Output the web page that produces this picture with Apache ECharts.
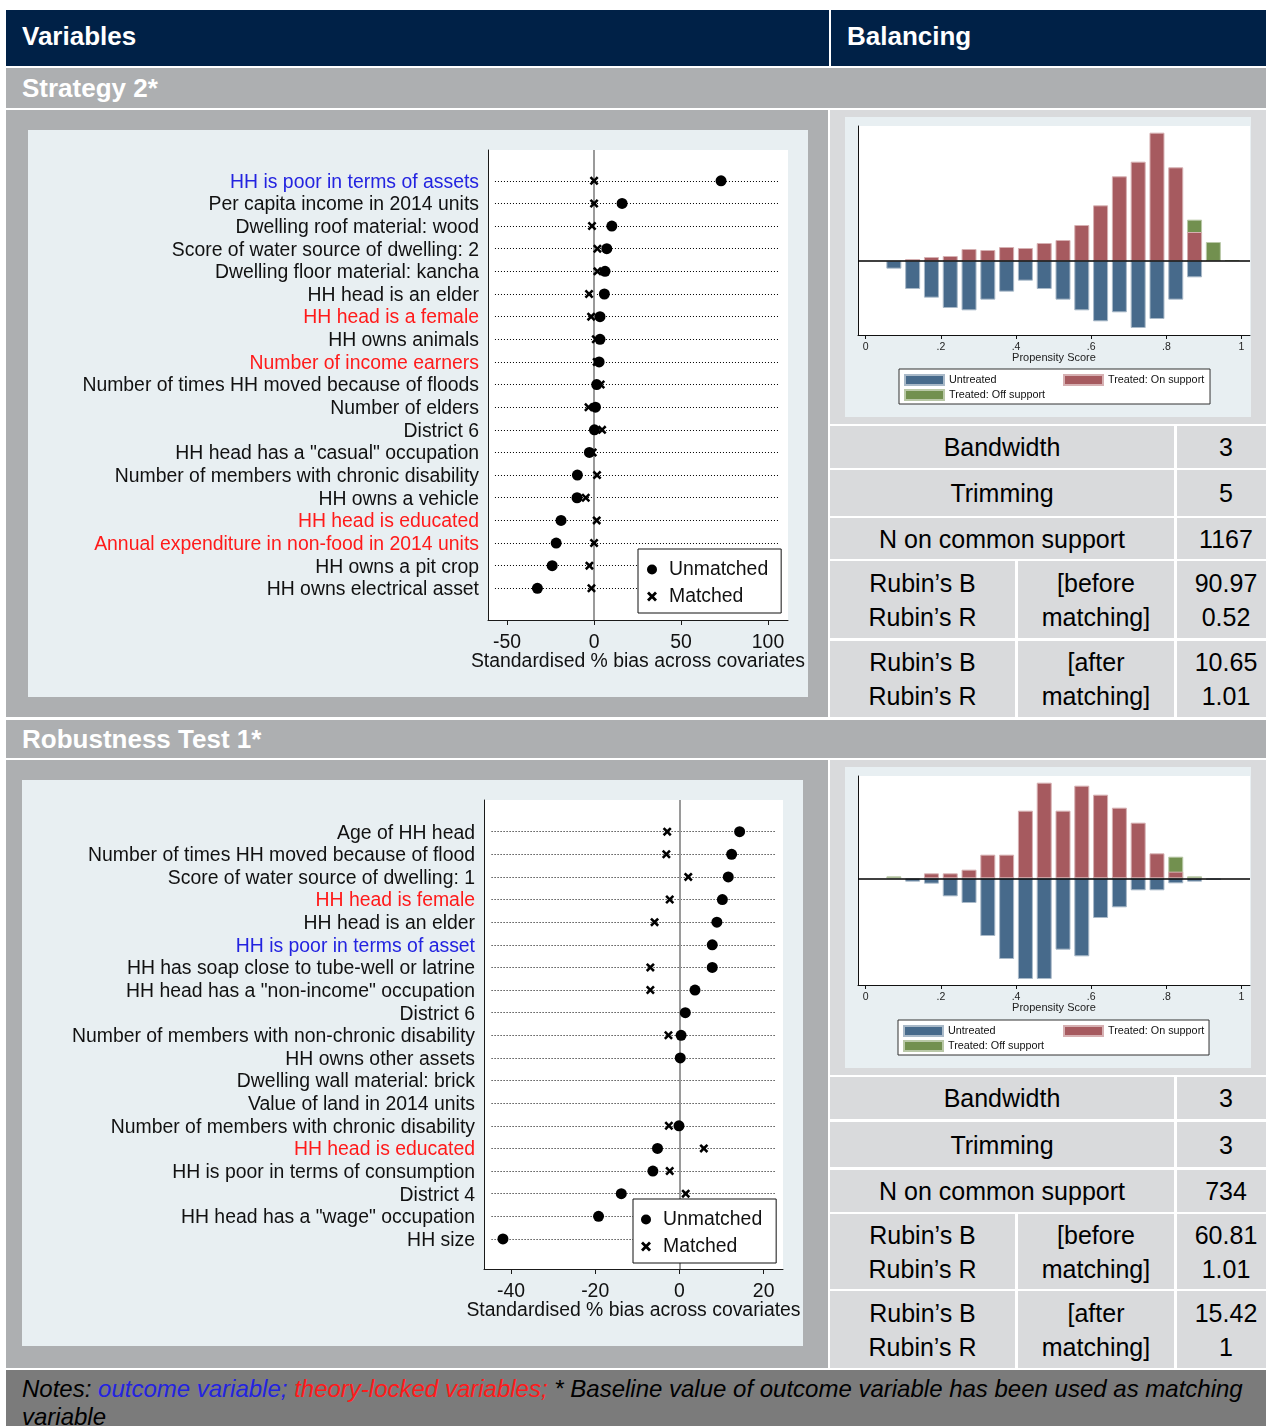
<!DOCTYPE html>
<html>
<head>
<meta charset="utf-8">
<script src="https://cdn.jsdelivr.net/npm/echarts@6/dist/echarts.min.js"></script>
<style>
  html, body { margin: 0; padding: 0; background: #fff; }
  body { font-family: "Liberation Sans", Arial, sans-serif; }
  #page { position: relative; width: 1266px; height: 1426px; overflow: hidden; background: #fff; }
  .b { position: absolute; box-sizing: border-box; }
  .navy { background: #002147; }
  .dk { background: #adafb1; }
  .lt { background: #d9dadc; }
  .hd { color: #fff; font-weight: bold; font-size: 26px; display: flex; align-items: center; padding-left: 16px; white-space: nowrap; }
  .top { padding-bottom: 4px; }
  .cell { color: #000; font-size: 25px; display: flex; align-items: center; justify-content: center; text-align: center; line-height: 34px; white-space: nowrap; }
  .notes { background: #7b7b7b; color: #000; font-style: italic; font-size: 24px; line-height: 28px; padding: 5px 0 0 16px; white-space: nowrap; }
</style>
</head>
<body>
<div id="page">
  <!-- header row -->
  <div class="b navy hd top" style="left:6px;top:10px;width:823px;height:56px;">Variables</div>
  <div class="b navy hd top" style="left:831px;top:10px;width:435px;height:56px;">Balancing</div>

  <!-- block 1 -->
  <div class="b dk hd" style="left:6px;top:68px;width:1260px;height:40px;">Strategy 2*</div>
  <div class="b dk" style="left:6px;top:110px;width:822px;height:607px;"></div>
  <div class="b lt" style="left:830px;top:110px;width:436px;height:314px;"></div>
  <div id="dot1" class="b" style="left:28px;top:130px;width:780px;height:567px;"></div>
  <div id="hist1" class="b" style="left:845px;top:117px;width:406px;height:300px;"></div>
  <div id="tab1"></div>

  <!-- block 2 -->
  <div class="b dk hd" style="left:6px;top:720px;width:1260px;height:38px;">Robustness Test 1*</div>
  <div class="b dk" style="left:6px;top:760px;width:822px;height:608px;"></div>
  <div class="b lt" style="left:830px;top:760px;width:436px;height:315px;"></div>
  <div id="dot2" class="b" style="left:22px;top:780px;width:781px;height:566px;"></div>
  <div id="hist2" class="b" style="left:845px;top:767px;width:406px;height:301px;"></div>
  <div id="tab2"></div>

  <!-- notes -->
  <div class="b notes" style="left:6px;top:1370px;width:1260px;height:56px;">Notes: <span style="color:#2323e0">outcome variable;</span> <span style="color:#ff1a1a">theory-locked variables;</span> * Baseline value of outcome variable has been used as matching<br>variable</div>
</div>

<script>
// ---------------- Strategy 2* : covariate balance ----------------
const s2Variables = [
  'HH is poor in terms of assets',
  'Per capita income in 2014 units',
  'Dwelling roof material: wood',
  'Score of water source of dwelling: 2',
  'Dwelling floor material: kancha',
  'HH head is an elder',
  'HH head is a female',
  'HH owns animals',
  'Number of income earners',
  'Number of times HH moved because of floods',
  'Number of elders',
  'District 6',
  'HH head has a "casual" occupation',
  'Number of members with chronic disability',
  'HH owns a vehicle',
  'HH head is educated',
  'Annual expenditure in non-food in 2014 units',
  'HH owns a pit crop',
  'HH owns electrical asset'
];
// o = outcome variable, t = theory-locked variable, k = other
const s2Kind = ['o','k','k','k','k','k','t','k','t','k','k','k','k','k','k','t','t','k','k'];
const s2Unmatched = [73, 16.1, 10.2, 7.3, 6.3, 5.9, 3.4, 3.4, 2.9, 1.5, 0.8, 0.2, -2.7, -9.6, -9.8, -19, -21.8, -24.1, -32.6];
const s2Matched   = [0, 0, -1.2, 1.9, 1.9, -2.9, -1.7, 1, 1.5, 3.8, -3.2, 4.6, -0.8, 1.7, -4.8, 1.5, 0, -2.7, -1.5];
const s2BiasTicks = [-50, 0, 50, 100];

// ---------------- Robustness Test 1* : covariate balance ----------------
const r1Variables = [
  'Age of HH head',
  'Number of times HH moved because of flood',
  'Score of water source of dwelling: 1',
  'HH head is female',
  'HH head is an elder',
  'HH is poor in terms of asset',
  'HH has soap close to tube-well or latrine',
  'HH head has a "non-income" occupation',
  'District 6',
  'Number of members with non-chronic disability',
  'HH owns other assets',
  'Dwelling wall material: brick',
  'Value of land in 2014 units',
  'Number of members with chronic disability',
  'HH head is educated',
  'HH is poor in terms of consumption',
  'District 4',
  'HH head has a "wage" occupation',
  'HH size'
];
const r1Kind = ['k','k','k','t','k','o','k','k','k','k','k','k','k','k','t','k','k','k','k'];
const r1Unmatched = [14.3, 12.4, 11.6, 10.2, 8.9, 7.8, 7.8, 3.7, 1.4, 0.4, 0.2, null, null, -0.1, -5.2, -6.3, -13.8, -19.2, -41.9];
const r1Matched   = [-2.9, -3.1, 2.1, -2.3, -5.9, null, -6.9, -6.9, null, -2.6, null, null, null, -2.5, 5.8, -2.3, 1.5, null, null];
const r1BiasTicks = [-40, -20, 0, 20];

// ---------------- propensity score histograms ----------------
const psBins = [0.075, 0.125, 0.175, 0.225, 0.275, 0.325, 0.375, 0.425, 0.475, 0.525,
                0.575, 0.625, 0.675, 0.725, 0.775, 0.825, 0.875, 0.925, 0.975];
const psTicks = [0, 0.2, 0.4, 0.6, 0.8, 1];
const s2Untreated   = [23, 84, 110, 141, 148, 116, 92, 59, 84, 116, 148, 181, 154, 201, 174, 116, 49, 0, 0];
const s2TreatedOn   = [0, 6, 12, 15, 36, 33, 42, 39, 54, 63, 108, 167, 254, 298, 385, 281, 87, 0, 0];
const s2TreatedOff  = [0, 0, 0, 0, 0, 0, 0, 0, 0, 0, 0, 0, 0, 0, 0, 0, 37, 57, 3];
const r1Untreated   = [0, 10, 16, 54, 74, 173, 242, 302, 302, 214, 234, 119, 87, 36, 36, 15, 10, 5, 0];
const r1TreatedOn   = [0, 0, 15, 15, 26, 71, 71, 203, 287, 203, 278, 251, 212, 167, 75, 20, 0, 0, 0];
const r1TreatedOff  = [6, 0, 0, 0, 0, 0, 0, 0, 0, 0, 0, 0, 0, 0, 0, 45, 6, 0, 0];

// ---------------- balancing statistics ----------------
const statLabels = ['Bandwidth', 'Trimming', 'N on common support'];
const s2Stats = ['3', '5', '1167', '90.97', '0.52', '10.65', '1.01'];
const r1Stats = ['3', '3', '734', '60.81', '1.01', '15.42', '1'];

// ======================================================================
const FONT = '"Liberation Sans", Arial, sans-serif';
const PANEL = '#e8eff2';
const CROSS = 'path://M2,0L5,3L8,0L10,2L7,5L10,8L8,10L5,7L2,10L0,8L3,5L0,2Z';
const BLUE_TXT = '#2323e0';
const RED_TXT = '#ff1a1a';

function dotChart(id, cfg) {
  const chart = echarts.init(document.getElementById(id), null, { renderer: 'canvas' });
  const rowIdx = cfg.labels.map((_, i) => i);
  const pts = arr => arr.map((v, i) => (v == null ? null : [v, i])).filter(Boolean);
  const guides = rowIdx.map(i => [
    { coord: [cfg.guide[0], i], lineStyle: { color: '#000', width: 1, type: [1, 2] } },
    { coord: [cfg.guide[1], i] }
  ]);
  const lab = { fontSize: 19.4, fontFamily: FONT, padding: [3, 0, 0, 0] };
  chart.setOption({
    animation: false,
    backgroundColor: PANEL,
    textStyle: { fontFamily: FONT },
    grid: {
      left: cfg.grid[0], top: cfg.grid[1], width: cfg.grid[2], height: cfg.grid[3],
      show: true, backgroundColor: '#fff', borderWidth: 0,
      containLabel: false, outerBoundsMode: 'none'
    },
    xAxis: {
      type: 'value', min: cfg.xRange[0], max: cfg.xRange[1],
      splitLine: { show: false },
      axisLine: { show: true, onZero: false, lineStyle: { color: '#1a1a1a', width: 1 } },
      axisTick: { show: true, customValues: cfg.ticks, length: 5, lineStyle: { color: '#1a1a1a' } },
      axisLabel: { show: true, customValues: cfg.ticks, fontSize: 19.4, color: '#111', margin: 13, fontFamily: FONT },
      name: 'Standardised % bias across covariates', nameLocation: 'middle', nameGap: 32,
      nameMoveOverlap: false,
      nameTextStyle: { fontSize: 19.4, color: '#111', fontFamily: FONT }
    },
    yAxis: {
      type: 'value', inverse: true, min: cfg.yRange[0], max: cfg.yRange[1],
      splitLine: { show: false },
      axisLine: { show: true, onZero: false, lineStyle: { color: '#1a1a1a', width: 1 } },
      axisTick: { show: false },
      axisLabel: {
        show: true, customValues: rowIdx, margin: 9,
        formatter: v => '{' + cfg.kinds[v] + '|' + cfg.labels[v] + '}',
        rich: {
          k: Object.assign({ color: '#111' }, lab),
          o: Object.assign({ color: BLUE_TXT }, lab),
          t: Object.assign({ color: RED_TXT }, lab)
        }
      }
    },
    legend: {
      show: true, orient: 'vertical', left: cfg.legend[0], top: cfg.legend[1],
      padding: cfg.legendPad, itemGap: 8, itemWidth: 24, itemHeight: 10,
      backgroundColor: '#fff', borderColor: '#111', borderWidth: 1, borderRadius: 0,
      selectedMode: false,
      textStyle: { fontSize: 19.4, color: '#111', fontFamily: FONT },
      data: [{ name: 'Unmatched', icon: 'circle' }, { name: 'Matched', icon: CROSS }]
    },
    series: [
      {
        type: 'scatter', name: 'Unmatched', data: pts(cfg.unmatched),
        symbol: 'circle', symbolSize: 11, itemStyle: { color: '#000', opacity: 1 }, z: 3,
        markLine: {
          silent: true, symbol: ['none', 'none'], label: { show: false }, z: 1, animation: false,
          emphasis: { disabled: true },
          data: guides.concat([{ xAxis: 0, lineStyle: { color: '#9a9a9a', width: 2, type: 'solid' } }])
        }
      },
      {
        type: 'scatter', name: 'Matched', data: pts(cfg.matched),
        symbol: CROSS, symbolSize: 9, itemStyle: { color: '#000', opacity: 1 }, z: 4
      }
    ]
  });
}

function histChart(id, cfg) {
  const chart = echarts.init(document.getElementById(id), null, { renderer: 'canvas' });
  const bars = f => psBins.map((b, i) => (f(i) ? [b, f(i)] : null)).filter(Boolean);
  const common = { type: 'bar', barWidth: 15, barGap: '-100%' };
  const legendBase = {
    show: true, orient: 'vertical', itemGap: 3, itemWidth: 39, itemHeight: 10, icon: 'rect',
    borderRadius: 0, selectedMode: false,
    textStyle: { fontSize: 10.8, color: '#111', fontFamily: FONT }
  };
  chart.setOption({
    animation: false,
    backgroundColor: PANEL,
    textStyle: { fontFamily: FONT },
    grid: {
      left: 13, top: 9, width: 392, height: 209,
      show: true, backgroundColor: '#fff', borderWidth: 0,
      containLabel: false, outerBoundsMode: 'none'
    },
    xAxis: {
      type: 'value', min: -0.0204, max: 1.0225,
      splitLine: { show: false },
      axisLine: { show: true, onZero: false, lineStyle: { color: '#111', width: 1 } },
      axisTick: { show: true, customValues: psTicks, length: 4, lineStyle: { color: '#111' } },
      axisLabel: {
        show: true, customValues: psTicks, fontSize: 10.5, color: '#222', margin: 7, fontFamily: FONT,
        formatter: v => (v === 0 ? '0' : v === 1 ? '1' : String(v).replace(/^0/, ''))
      },
      name: 'Propensity Score', nameLocation: 'middle', nameGap: 17, nameMoveOverlap: false,
      nameTextStyle: { fontSize: 11, color: '#222', fontFamily: FONT }
    },
    yAxis: {
      type: 'value', min: cfg.yRange[0], max: cfg.yRange[1],
      splitLine: { show: false },
      axisLine: { show: true, onZero: false, lineStyle: { color: '#111', width: 1 } },
      axisTick: { show: false }, axisLabel: { show: false }
    },
    // boxed legend (first column) plus the second-column key laid over it
    legend: [
      Object.assign({}, legendBase, {
        left: cfg.legend[0], top: cfg.legend[1], padding: [5, 165, 3, 5],
        backgroundColor: '#fff', borderColor: '#333', borderWidth: 1, z: 4,
        data: ['Untreated', 'Treated: Off support']
      }),
      Object.assign({}, legendBase, {
        left: 218, top: cfg.legend[1], padding: [5, 0, 0, 0],
        backgroundColor: 'transparent', borderWidth: 0, z: 5,
        data: ['Treated: On support']
      })
    ],
    series: [
      Object.assign({}, common, {
        name: 'Treated: Off support',
        data: bars(i => (cfg.off[i] ? cfg.on[i] + cfg.off[i] : 0)),
        itemStyle: { color: '#72904f', borderColor: '#b9c8a7', borderWidth: 1 }
      }),
      Object.assign({}, common, {
        name: 'Treated: On support',
        data: bars(i => cfg.on[i]),
        itemStyle: { color: '#a65a5f', borderColor: '#d6b0b2', borderWidth: 1 }
      }),
      Object.assign({}, common, {
        name: 'Untreated',
        data: bars(i => (cfg.un[i] ? -cfg.un[i] : 0)),
        itemStyle: { color: '#476a8b', borderColor: '#a9b9c8', borderWidth: 1 },
        markLine: {
          silent: true, symbol: ['none', 'none'], label: { show: false }, animation: false,
          emphasis: { disabled: true },
          data: [{ yAxis: 0, lineStyle: { color: '#000', width: 1.5, type: 'solid' } }]
        }
      })
    ]
  });
}

function statTable(id, rowsY, stats) {
  const host = document.getElementById(id);
  const cell = (x, y, w, h, html) => {
    const d = document.createElement('div');
    d.className = 'b lt cell';
    d.style.cssText = `left:${x}px;top:${y}px;width:${w}px;height:${h}px;`;
    d.innerHTML = html;
    host.appendChild(d);
    return d;
  };
  const val = (y, h, html) => { const d = cell(1177, y, 89, h, html); d.style.paddingLeft = '9px'; };
  statLabels.forEach((lbl, i) => {
    cell(830, rowsY[i][0], 344, rowsY[i][1], lbl);
    val(rowsY[i][0], rowsY[i][1], stats[i]);
  });
  const phases = ['[before<br>matching]', '[after<br>matching]'];
  phases.forEach((ph, j) => {
    const [y, h] = rowsY[3 + j];
    cell(830, y, 185, h, 'Rubin\u2019s B<br>Rubin\u2019s R');
    cell(1018, y, 156, h, ph);
    val(y, h, stats[3 + 2 * j] + '<br>' + stats[4 + 2 * j]);
  });
}

dotChart('dot1', {
  labels: s2Variables, kinds: s2Kind, unmatched: s2Unmatched, matched: s2Matched, ticks: s2BiasTicks,
  grid: [460, 20, 300, 470], xRange: [-61, 111.5], yRange: [-1.36, 19.4], guide: [-57, 106],
  legend: [610, 419], legendPad: [11, 13, 7, 9]
});
dotChart('dot2', {
  labels: r1Variables, kinds: r1Kind, unmatched: r1Unmatched, matched: r1Matched, ticks: r1BiasTicks,
  grid: [462, 20, 299, 469], xRange: [-46.4, 24.6], yRange: [-1.4, 19.33], guide: [-44.6, 22.9],
  legend: [611, 419], legendPad: [11, 14, 7, 8]
});
histChart('hist1', { un: s2Untreated, on: s2TreatedOn, off: s2TreatedOff, yRange: [-222, 405], legend: [54, 252] });
histChart('hist2', { un: r1Untreated, on: r1TreatedOn, off: r1TreatedOff, yRange: [-320, 307], legend: [53, 253] });

statTable('tab1', [[426, 42], [470, 46], [518, 41], [561, 77], [641, 76]], s2Stats);
statTable('tab2', [[1077, 42], [1122, 45], [1170, 42], [1214, 75], [1291, 77]], r1Stats);
</script>
</body>
</html>
